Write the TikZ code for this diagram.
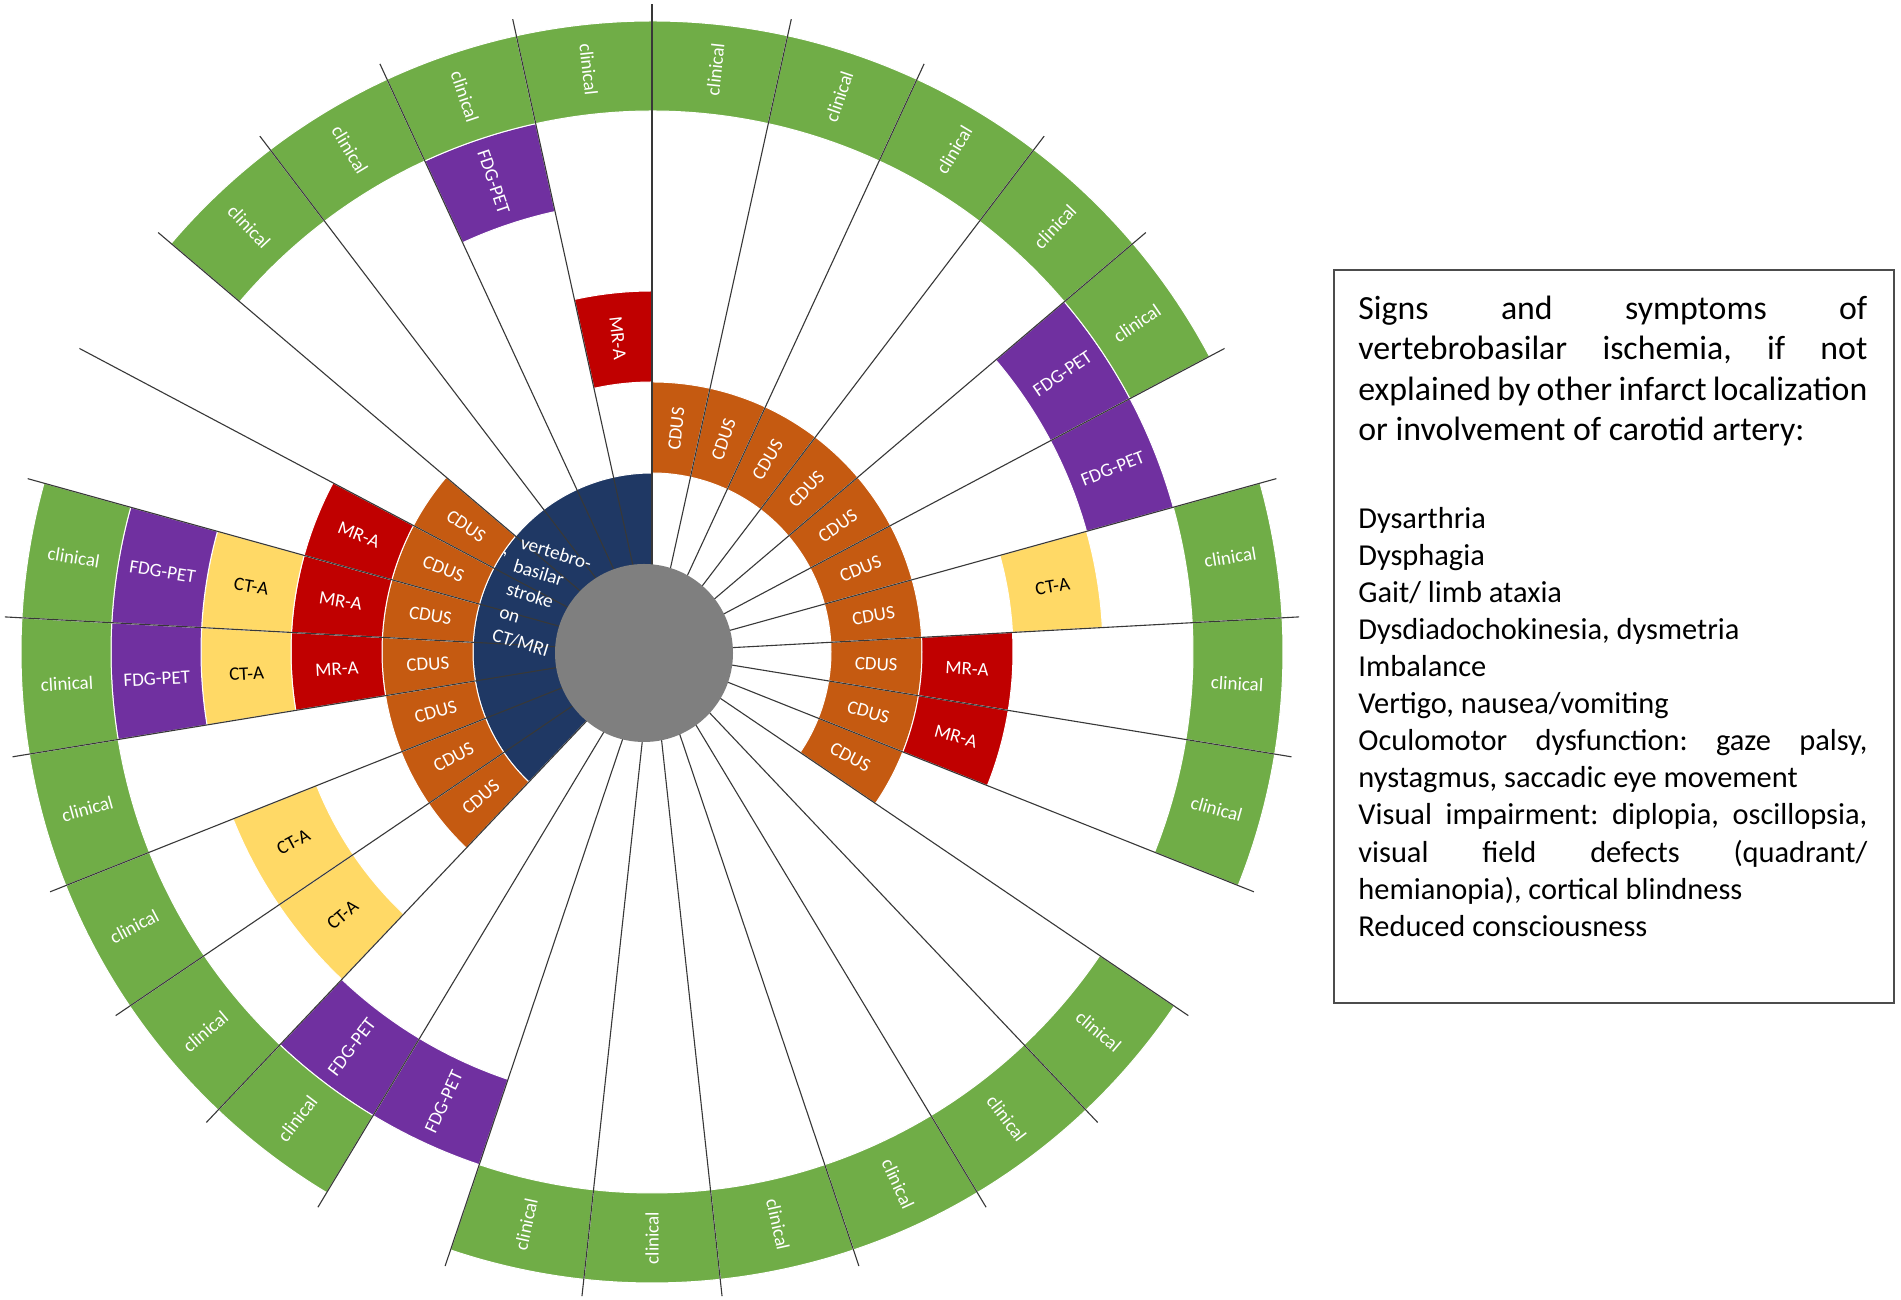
\documentclass[tikz,border=0pt]{standalone}
\usepackage{fontspec}
\setmainfont{Carlito}
\definecolor{cgreen}{HTML}{70AD47}
\definecolor{cpurple}{HTML}{7030A0}
\definecolor{cyellow}{HTML}{FFD966}
\definecolor{cred}{HTML}{C00000}
\definecolor{corange}{HTML}{C55A11}
\definecolor{cblue}{HTML}{1F3864}
\definecolor{cgrey}{HTML}{7F7F7F}
\newcommand\labfont{\fontsize{9.5}{11}\selectfont}
\newcommand\hdfont{\fontsize{16.9}{20}\selectfont\frenchspacing}
\newcommand\lsfont{\fontsize{15.2}{18}\selectfont\frenchspacing}
% #1 style, #2 sector index, #3 inner radius, #4 outer radius, #5 label
\newcommand\cellA[5]{%
  \pgfmathsetmacro\aS{90-360/29*#2}%
  \pgfmathsetmacro\aE{90-360/29*(#2+1)}%
  \pgfmathsetmacro\aM{90-360/29*(#2+0.5)}%
  \pgfmathsetmacro\rM{(#3+#4)/2}%
  \pgfmathsetmacro\rot{\aM>-89.9 ? \aM : \aM+180}%
  \path[#1] (\aS:#3) arc[start angle=\aS, end angle=\aE, radius=#3]
     -- (\aE:#4) arc[start angle=\aE, end angle=\aS, radius=#4] -- cycle;
  \node[#1 text, rotate=\rot] (c#1#2) at (\aM:\rM) {#5};
}
\newcommand\cdus[1]{\cellA{cdus}{#1}{179}{270}{CDUS}}
\newcommand\mra[1]{\cellA{mra}{#1}{270}{361}{MR-A}}
\newcommand\cta[1]{\cellA{cta}{#1}{361}{451}{CT-A}}
\newcommand\fdg[1]{\cellA{fdg}{#1}{451}{541}{FDG-PET}}
\newcommand\clin[1]{\cellA{clin}{#1}{541}{631}{clinical}}
\newcommand\jline[3]{\node[legtext] (#1) at (1358,#2) {\hdfont\makebox[254.5pt][s]{#3}};}
\newcommand\hlineL[3]{\node[legtext] (#1) at (1358,#2) {\hdfont #3};}
\newcommand\ljline[3]{\node[legtext] (#1) at (1358,#2) {\lsfont\makebox[254.5pt][s]{#3}};}
\newcommand\llineL[3]{\node[legtext] (#1) at (1358,#2) {\lsfont #3};}
\begin{document}
\begin{tikzpicture}[x=0.5pt,y=0.5pt,
  cellbase/.style={draw=white,line width=0.5pt},
  cdus/.style={cellbase,fill=corange},
  mra/.style={cellbase,fill=cred},
  cta/.style={cellbase,fill=cyellow},
  fdg/.style={cellbase,fill=cpurple},
  clin/.style={cellbase,fill=cgreen},
  labbase/.style={font=\labfont,inner sep=0pt},
  cdus text/.style={labbase,text=white},
  mra text/.style={labbase,text=white},
  cta text/.style={labbase,text=black},
  fdg text/.style={labbase,text=white},
  clin text/.style={labbase,text=white},
  bluewedge/.style={cellbase,fill=cblue},
  spoke/.style={draw=black!78,line width=0.55pt},
  legtext/.style={anchor=base west,inner sep=0pt,text=black},
  legbox/.style={draw=black!70,line width=0.6pt},
]
\useasboundingbox (0,0) rectangle (1901,1300);
\fill[white] (0,0) rectangle (1901,1300);
\begin{scope}[shift={(652,648)}]
  % blue inner wedge
  \path[bluewedge] (90:80) arc[start angle=90,end angle=226.5517,radius=80]
     -- (226.5517:179) arc[start angle=226.5517,end angle=90,radius=179] -- cycle;
  % rings
  \foreach \i in {0,1,2,3,4,5,6,7,8,9,18,19,20,21,22,23,24} {\cdus{\i}}
  \foreach \i in {7,8,21,22,23,28} {\mra{\i}}
  \foreach \i in {6,18,19,21,22} {\cta{\i}}
  \foreach \i in {4,5,16,17,21,22,27} {\fdg{\i}}
  \foreach \i in {0,1,2,3,4,6,7,8,10,11,12,13,14,15,17,18,19,20,21,22,25,26,27,28} {\clin{\i}}
  % spokes
  \foreach \k in {0,...,28} {\draw[spoke] ({90-360/29*\k}:80) -- ({90-360/29*\k}:648);}
  % grey centre
  \fill[cgrey] (-8,-1) circle[radius=89];
\end{scope}
% blue label
\node[text=white,font=\fontsize{9.6}{12}\selectfont,align=left,rotate=-17,inner sep=0pt] (vb) at (542,701)
  {vertebro-\\basilar\\stroke\\on\\CT/MRI};
\node[text=white,font=\labfont,inner sep=0pt] (vbc) at (505,745) {,};
% legend box
\draw[legbox] (1334,297) rectangle (1894,1030);
\jline{l1}{980.5}{Signs and symptoms of}
\jline{l2}{940.1}{vertebrobasilar ischemia, if not}
\jline{l3}{899.7}{explained by other infarct localization}
\hlineL{l4}{859.3}{or involvement of carotid artery:}
\llineL{l5}{771.3}{Dysarthria}
\llineL{l6}{734.2}{Dysphagia}
\llineL{l7}{697.2}{Gait/ limb ataxia}
\llineL{l8}{660.2}{Dysdiadochokinesia, dysmetria}
\llineL{l9}{623.1}{Imbalance}
\llineL{l10}{586.1}{Vertigo, nausea/vomiting}
\ljline{l11}{549}{Oculomotor dysfunction: gaze palsy,}
\llineL{l12}{512}{nystagmus, saccadic eye movement}
\ljline{l13}{475}{Visual impairment: diplopia, oscillopsia,}
\ljline{l14}{437.9}{visual field defects (quadrant/}
\llineL{l15}{400.9}{hemianopia), cortical blindness}
\llineL{l16}{363.8}{Reduced consciousness}
\end{tikzpicture}
\end{document}
